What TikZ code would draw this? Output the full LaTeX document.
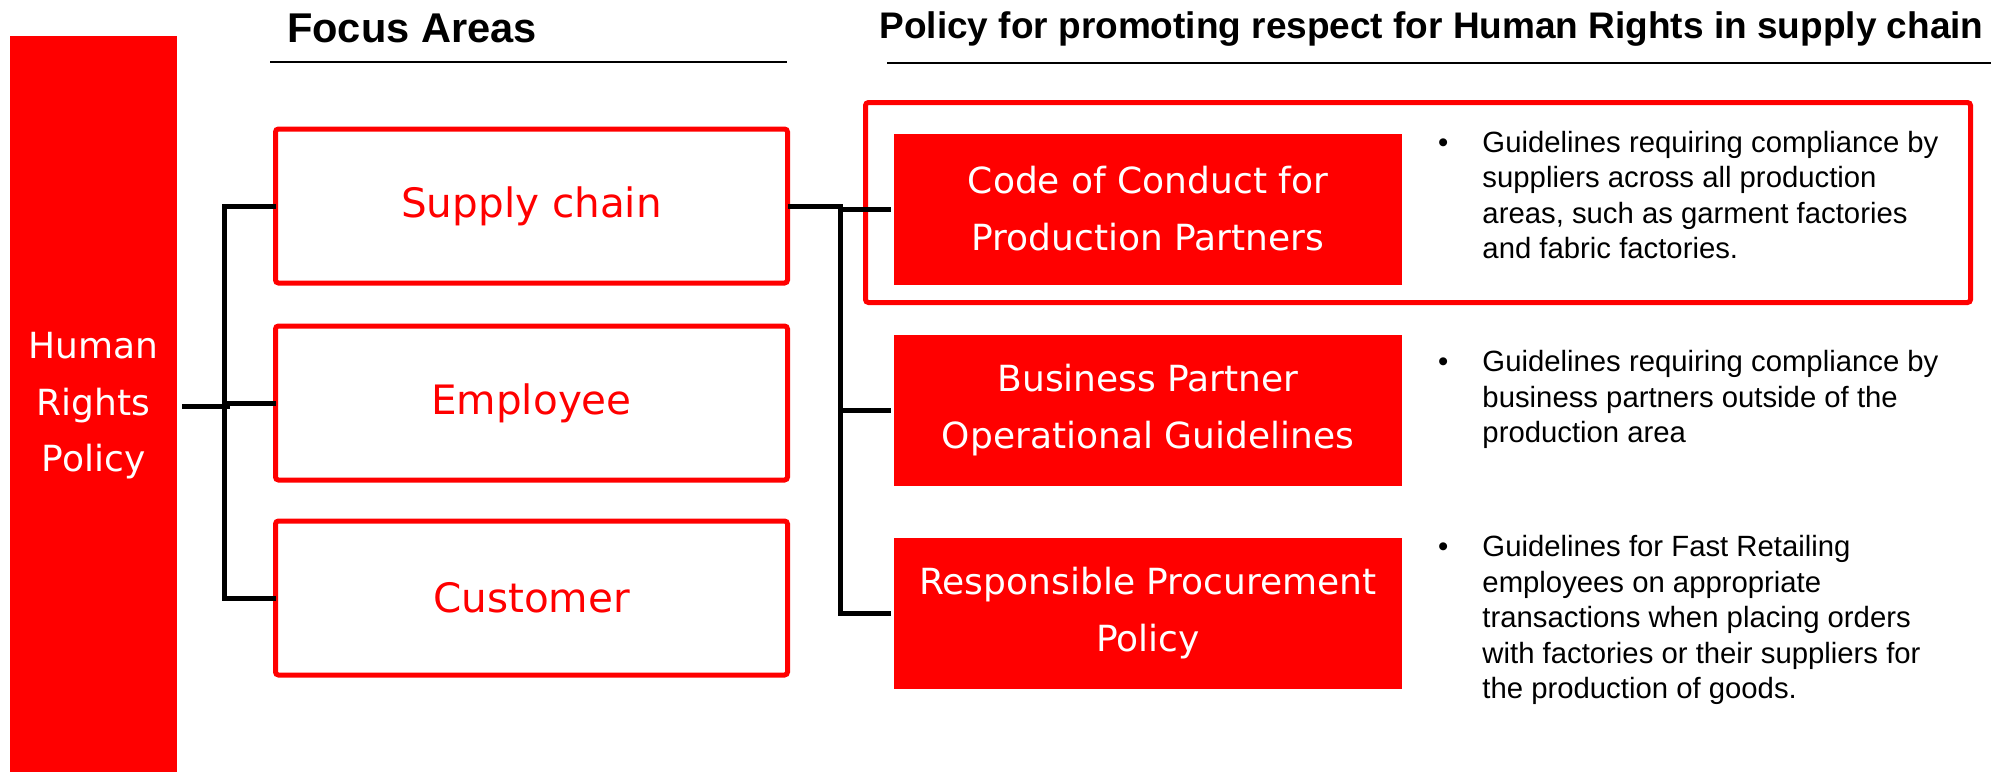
\documentclass[tikz,border=0pt]{standalone}
\usepackage{fontspec}
\setmainfont{Liberation Sans}
\newfontfamily\labelfont{DejaVu Sans}
\definecolor{hrred}{RGB}{255,0,0}

\begin{document}
\begin{tikzpicture}[x=1pt,y=1pt,yscale=-1,xscale=1,
  bar/.style={fill=hrred, text=white, inner sep=0, minimum width=167, minimum height=740, align=center, font=\labelfont\fontsize{36}{56.5}\selectfont},
  focus/.style={draw=hrred, line width=5, rounded corners=3, minimum width=512, minimum height=154, text=hrred, font=\labelfont\fontsize{40.5}{48}\selectfont},
  policy/.style={fill=hrred, text=white, inner sep=0, minimum width=508, minimum height=151, align=center, font=\labelfont\fontsize{36}{57}\selectfont},
  frame/.style={draw=hrred, line width=5, rounded corners=3, inner sep=0, minimum width=1105, minimum height=200},
  desc/.style={inner sep=0, anchor=base west, font=\fontsize{29.3}{35.5}\selectfont},
  conn/.style={draw=black, line width=5, line cap=rect},
  rule/.style={draw=black, line width=2}]
\useasboundingbox (0,0) rectangle (1991,771);

% Titles
\node[anchor=base, font=\bfseries\fontsize{41.6}{50}\selectfont] (fatitle) at (412,42.7) {Focus Areas};
\node[anchor=base west, font=\bfseries\fontsize{37}{45}\selectfont] (pltitle) at (876,38.5) {Policy for promoting respect for Human Rights in supply chain};
\draw[rule] (270,62) -- (787,62);
\draw[rule] (887,63) -- (1991,63);

%Shape: Rectangle
\node[bar] (hrp) at (93.5,406) {Human\\Rights\\Policy};

%Shape: Rectangle
\node[focus] (fa1) at (531.5,206) {Supply chain};
\node[focus] (fa2) at (531.5,403) {Employee};
\node[focus] (fa3) at (531.5,598) {Customer};

%Shape: Rectangle
\node[frame] (hl) at (1418,202.5) {};
\node[policy] (pb1) at (1148,209) {Code of Conduct for\\Production Partners};
\node[policy] (pb2) at (1148,410) {Business Partner\\Operational Guidelines};
\node[policy] (pb3) at (1148,613) {Responsible Procurement\\Policy};

% Text Node
\node[desc] (d1) at (1438,152) {\begin{tabular}[t]{@{}l@{\hspace{34pt}}l@{}}
\textbullet & Guidelines requiring compliance by\\
 & suppliers across all production\\
 & areas, such as garment factories\\
 & and fabric factories.
\end{tabular}};
% Text Node
\node[desc] (d2) at (1438,371.5) {\begin{tabular}[t]{@{}l@{\hspace{34pt}}l@{}}
\textbullet & Guidelines requiring compliance by\\
 & business partners outside of the\\
 & production area
\end{tabular}};
% Text Node
\node[desc] (d3) at (1438,556.7) {\begin{tabular}[t]{@{}l@{\hspace{34pt}}l@{}}
\textbullet & Guidelines for Fast Retailing\\
 & employees on appropriate\\
 & transactions when placing orders\\
 & with factories or their suppliers for\\
 & the production of goods.
\end{tabular}};

% Connectors
\draw[conn] ([xshift=7]hrp.east) -- ++(43,0);
\draw[conn] (fa1.west) -- ++(-48.5,0) |- (fa3.west);
\draw[conn] (fa2.west) -- ++(-48.5,0);
\draw[conn] (fa1.east) -- ++(50.5,0) coordinate (rj);
\draw[conn] (rj) |- ([xshift=-5]pb3.west);
\draw[conn] (rj |- pb1.west) -- ([xshift=-5]pb1.west);
\draw[conn] (rj |- pb2.west) -- ([xshift=-5]pb2.west);

\end{tikzpicture}
\end{document}
